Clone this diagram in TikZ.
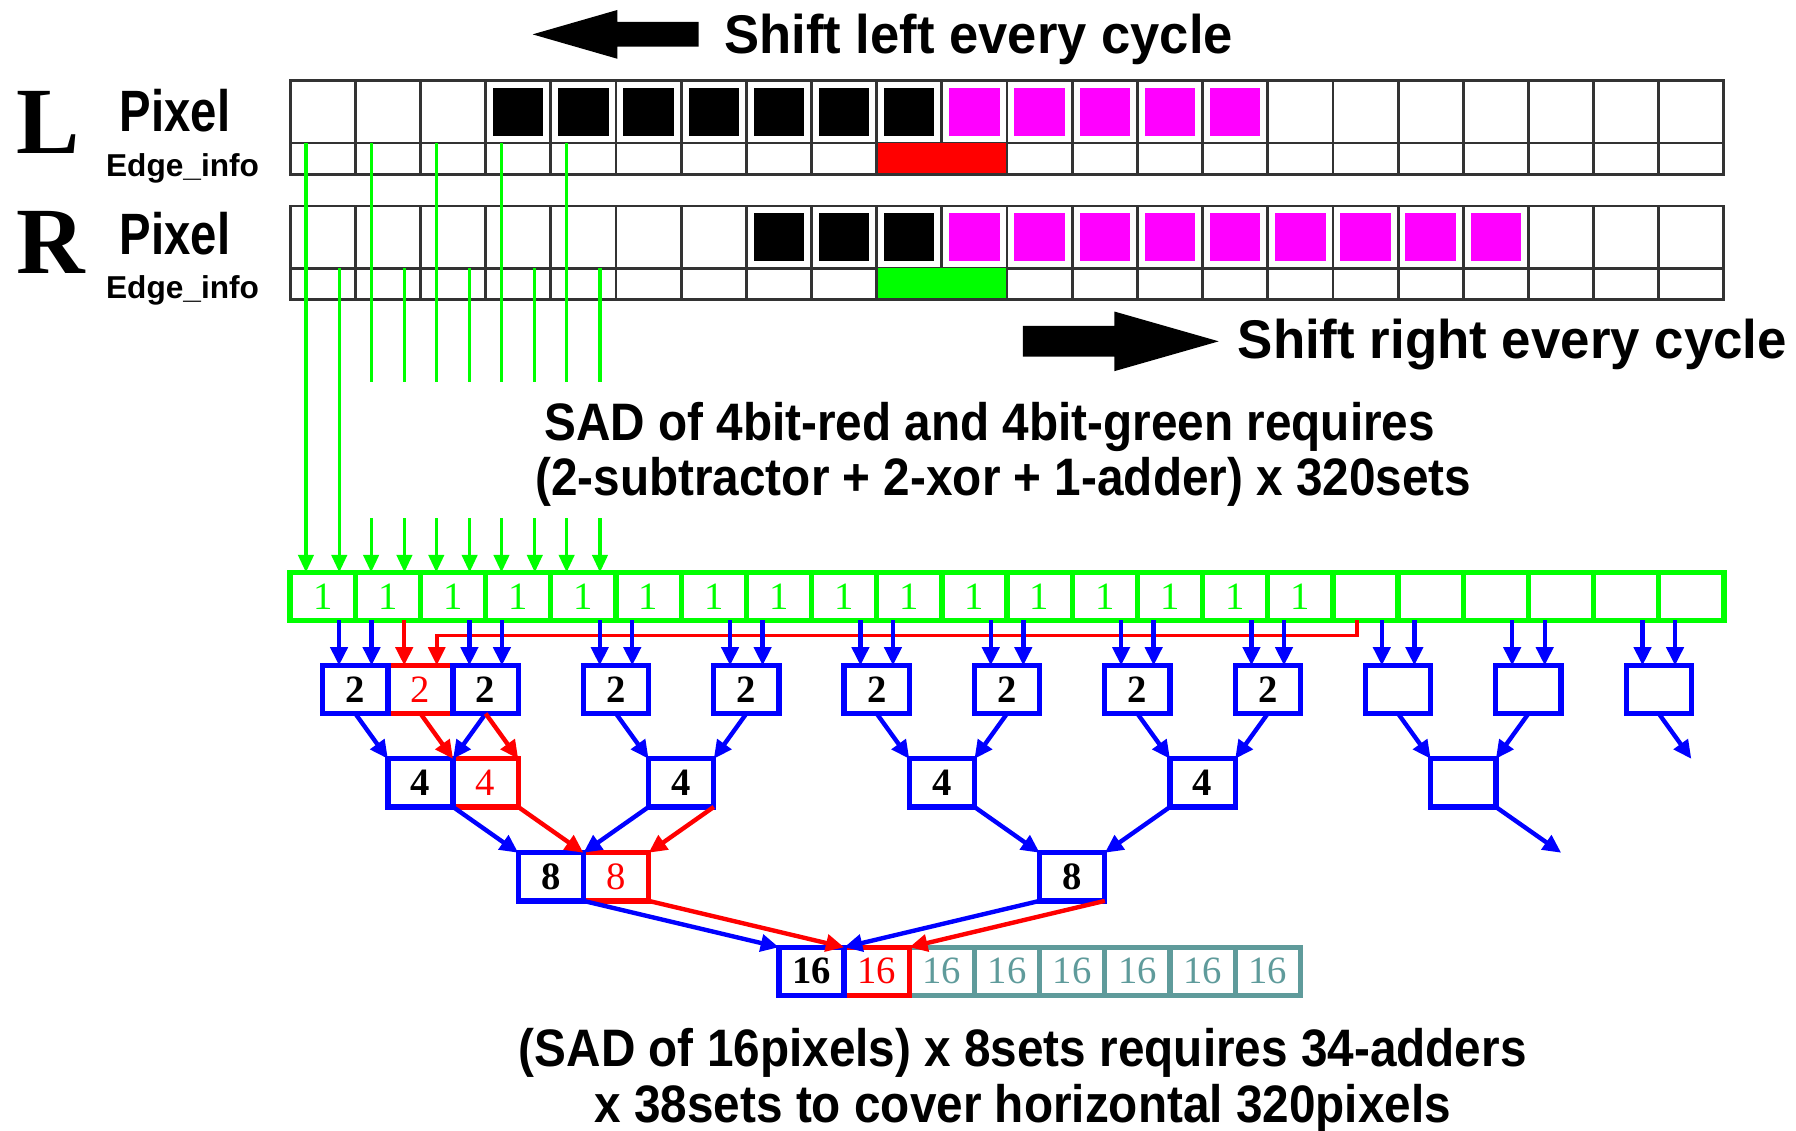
\documentclass[tikz,border=0pt]{standalone}
\usepackage{fontspec}
\usepackage{graphicx}
\setmainfont{Liberation Serif}
\newfontfamily\labelsans{Liberation Sans}
\usetikzlibrary{arrows.meta,calc}
\definecolor{sadgreen}{RGB}{0,255,0}
\definecolor{sadblue}{RGB}{0,0,255}
\definecolor{sadred}{RGB}{255,0,0}
\definecolor{pixmag}{RGB}{255,0,255}
\definecolor{sadteal}{RGB}{95,155,155}
\begin{document}
\begin{tikzpicture}[x=0.11454mm,y=-0.11454mm,
	pixcell/.style={draw=black!80,line width=0.8pt},
	tapline/.style={sadgreen,line width=0.9pt},
	tapin/.style={tapline,-{Triangle[length=5pt,width=4.4pt]}},
	sumbox/.style={draw,line width=1.5pt,minimum width=6.517mm,minimum height=4.81mm,inner sep=0pt,outer sep=0pt,font=\fontsize{11}{12}\selectfont},
	onebox/.style={sumbox,draw=sadgreen,text=sadgreen},
	addbox/.style={sumbox,draw=sadblue,font=\fontsize{11}{12}\selectfont\bfseries},
	redbox/.style={sumbox,draw=sadred,text=sadred},
	outbox/.style={sumbox,draw=sadteal,text=sadteal},
	bluefeed/.style={sadblue,line width=1.25pt,-{Triangle[length=5.2pt,width=4.8pt]}},
	redfeed/.style={sadred,line width=1.25pt,-{Triangle[length=5.2pt,width=4.8pt]}},
	headline/.style={inner sep=0pt,font=\labelsans\bfseries\fontsize{15.5}{18}\selectfont},
	noteline/.style={inner sep=0pt,font=\labelsans\bfseries\fontsize{15}{18}\selectfont}]
	\useasboundingbox (0,0) rectangle (1568,987);
	\fill [black] (465,30) -- (539,8.7) -- (539,19.2) -- (610,19.2) -- (610,40.8) -- (539,40.8) -- (539,51.3) -- cycle;
	\node [headline,anchor=base west] (shiftl) at (632,46.6) {\scalebox{0.965}[1]{Shift left every cycle}};
	\fill [black] (1064,298) -- (973,272) -- (973,284.6) -- (893,284.6) -- (893,311.4) -- (973,311.4) -- (973,324) -- cycle;
	\node [headline,anchor=base west] (shiftr) at (1080,313) {\scalebox{0.97}[1]{Shift right every cycle}};
	\node [inner sep=0pt,anchor=base west,font=\fontsize{27}{30}\selectfont\bfseries] (lname) at (14,134) {L};
	\node [inner sep=0pt,anchor=base west,font=\fontsize{27}{30}\selectfont\bfseries] (rname) at (14,238.6) {R};
	\node [inner sep=0pt,anchor=base west,font=\labelsans\bfseries\fontsize{16.6}{18}\selectfont] (lpix) at (104,115) {\scalebox{0.81}[1]{Pixel}};
	\node [inner sep=0pt,anchor=base west,font=\labelsans\bfseries\fontsize{9}{11}\selectfont] (ledge) at (92,154.2) {Edge\_info};
	\node [inner sep=0pt,anchor=base west,font=\labelsans\bfseries\fontsize{16.6}{18}\selectfont] (rpix) at (104,222.5) {\scalebox{0.81}[1]{Pixel}};
	\node [inner sep=0pt,anchor=base west,font=\labelsans\bfseries\fontsize{9}{11}\selectfont] (redge) at (92,260.5) {Edge\_info};
	\foreach \k in {3,...,9}
		\fill [black] ({259.75+56.9*\k},76.9) rectangle ++(44,41.6);
	\foreach \k in {10,...,14}
		\fill [pixmag] ({259.75+56.9*\k},76.9) rectangle ++(44,41.6);
	\foreach \k in {7,...,9}
		\fill [black] ({259.75+56.9*\k},186.3) rectangle ++(44,41.6);
	\foreach \k in {10,...,18}
		\fill [pixmag] ({259.75+56.9*\k},186.3) rectangle ++(44,41.6);
	\draw [pixcell] (253.3,70.5) rectangle (1505,152.2);
	\draw [pixcell] (253.3,124.9) -- (1505,124.9);
	\draw [pixcell] (253.3,179.9) rectangle (1505,261.3);
	\draw [pixcell] (253.3,234.3) -- (1505,234.3);
	\foreach \k in {1,...,21}{
		\draw [pixcell] ({253.3+56.9*\k},70.5) -- ({253.3+56.9*\k},152.2);
		\draw [pixcell] ({253.3+56.9*\k},179.9) -- ({253.3+56.9*\k},261.3);
	}
	\fill [sadred] (766.5,124.9) rectangle (878,151.1);
	\fill [sadgreen] (766.5,234.3) rectangle (878,260.2);
	\node [noteline,anchor=base] (sadnote) at (864,384.5) {\scalebox{0.905}[1]{SAD of 4bit-red and 4bit-green requires}};
	\node [noteline,anchor=base] (sadcost) at (876,433) {\scalebox{0.905}[1]{(2-subtractor + 2-xor + 1-adder) x 320sets}};
	\foreach \k in {0,...,21}
		\node [onebox] (one-\k) at ({281.75+56.9*\k},520.7) {\ifnum\k<16 1\fi};
	\coordinate (gaptop) at (0,333.2);
	\coordinate (gapbot) at (0,452.5);
	\foreach \i in {0,...,4}{
		\coordinate (ltap-\i) at ({267.1+56.9*\i},124.9);
		\coordinate (rtap-\i) at ({296.2+56.9*\i},234.3);
	}
	\draw [tapin] (ltap-0) -- (ltap-0 |- one-0.north);
	\draw [tapin] (rtap-0) -- (rtap-0 |- one-0.north);
	\foreach \i in {1,...,4}{
		\draw [tapline] (ltap-\i) -- (ltap-\i |- gaptop);
		\draw [tapin] (ltap-\i |- gapbot) -- (ltap-\i |- one-0.north);
		\draw [tapline] (rtap-\i) -- (rtap-\i |- gaptop);
		\draw [tapin] (rtap-\i |- gapbot) -- (rtap-\i |- one-0.north);
	}
	\node [redbox] (two-2) at (367.1,602) {2};
	\foreach \c in {1,3,...,21}
		\node [addbox] (two-\c) at ({253.3+56.9*\c},602) {\ifnum\c<17 2\fi};
	\node [redbox] (four-3) at (424,683.5) {4};
	\foreach \c in {2,6,...,18}
		\node [addbox] (four-\c) at ({253.3+56.9*\c},683.5) {\ifnum\c<18 4\fi};
	\node [redbox] (eight-5) at (537.8,765.5) {8};
	\node [addbox] (eight-4) at (480.9,765.5) {8};
	\node [addbox] (eight-12) at (936.1,765.5) {8};
	\foreach \c in {10,...,15}
		\node [outbox] (sixteen-\c) at ({253.3+56.9*\c},848) {16};
	\node [redbox] (sixteen-9) at (765.4,848) {16};
	\node [addbox] (sixteen-8) at (708.5,848) {16};
	\coordinate (wrap) at ($(one-16.south)+(-7.5,0)$);
	\coordinate (rail) at (0,555);
	\foreach \c in {2,1,3,...,21}{
		\coordinate (in-\c-a) at ($(two-\c.north)+(-14.2,0)$);
		\coordinate (in-\c-b) at ($(two-\c.north)+(14.2,0)$);
	}
	\draw [redfeed,line width=1pt] (wrap) -- (wrap |- rail) -| (in-2-b);
	\draw [redfeed] (in-2-a |- one-0.south) -- (in-2-a);
	\foreach \c in {1,3,...,21}{
		\draw [bluefeed] (in-\c-a |- one-0.south) -- (in-\c-a);
		\draw [bluefeed] (in-\c-b |- one-0.south) -- (in-\c-b);
	}
	\coordinate (spill-a) at (1476.6,662.5);
	\coordinate (spill-b) at (1363,744.5);
	\foreach \c in {2,6,...,18}{
		\pgfmathtruncatemacro\lo{\c-1}
		\pgfmathtruncatemacro\hi{\c+1}
		\draw [bluefeed] (two-\lo.south) -- (four-\c.north west);
		\draw [bluefeed] (two-\hi.south) -- (four-\c.north east);
	}
	\draw [bluefeed] (two-21.south) -- (spill-a);
	\draw [redfeed] (two-2.south) -- (four-3.north west);
	\draw [redfeed] (two-3.south) -- (four-3.north east);
	\draw [bluefeed] (four-2.south east) -- (eight-4.north west);
	\draw [bluefeed] (four-6.south west) -- (eight-4.north east);
	\draw [bluefeed] (four-10.south east) -- (eight-12.north west);
	\draw [bluefeed] (four-14.south west) -- (eight-12.north east);
	\draw [bluefeed] (four-18.south east) -- (spill-b);
	\draw [redfeed] (four-3.south east) -- (eight-5.north west);
	\draw [redfeed] (four-6.south east) -- (eight-5.north east);
	\draw [bluefeed] (eight-4.south east) -- (sixteen-8.north west);
	\draw [bluefeed] (eight-12.south west) -- (sixteen-8.north east);
	\draw [redfeed] (eight-5.south east) -- (sixteen-9.north west);
	\draw [redfeed] (eight-12.south east) -- (sixteen-9.north east);
	\node [noteline,anchor=base] (treecost) at (893,931) {\scalebox{0.905}[1]{(SAD of 16pixels) x 8sets requires 34-adders}};
	\node [noteline,anchor=base] (rowcost) at (893,980) {\scalebox{0.905}[1]{x 38sets to cover horizontal 320pixels}};
\end{tikzpicture}
\end{document}
